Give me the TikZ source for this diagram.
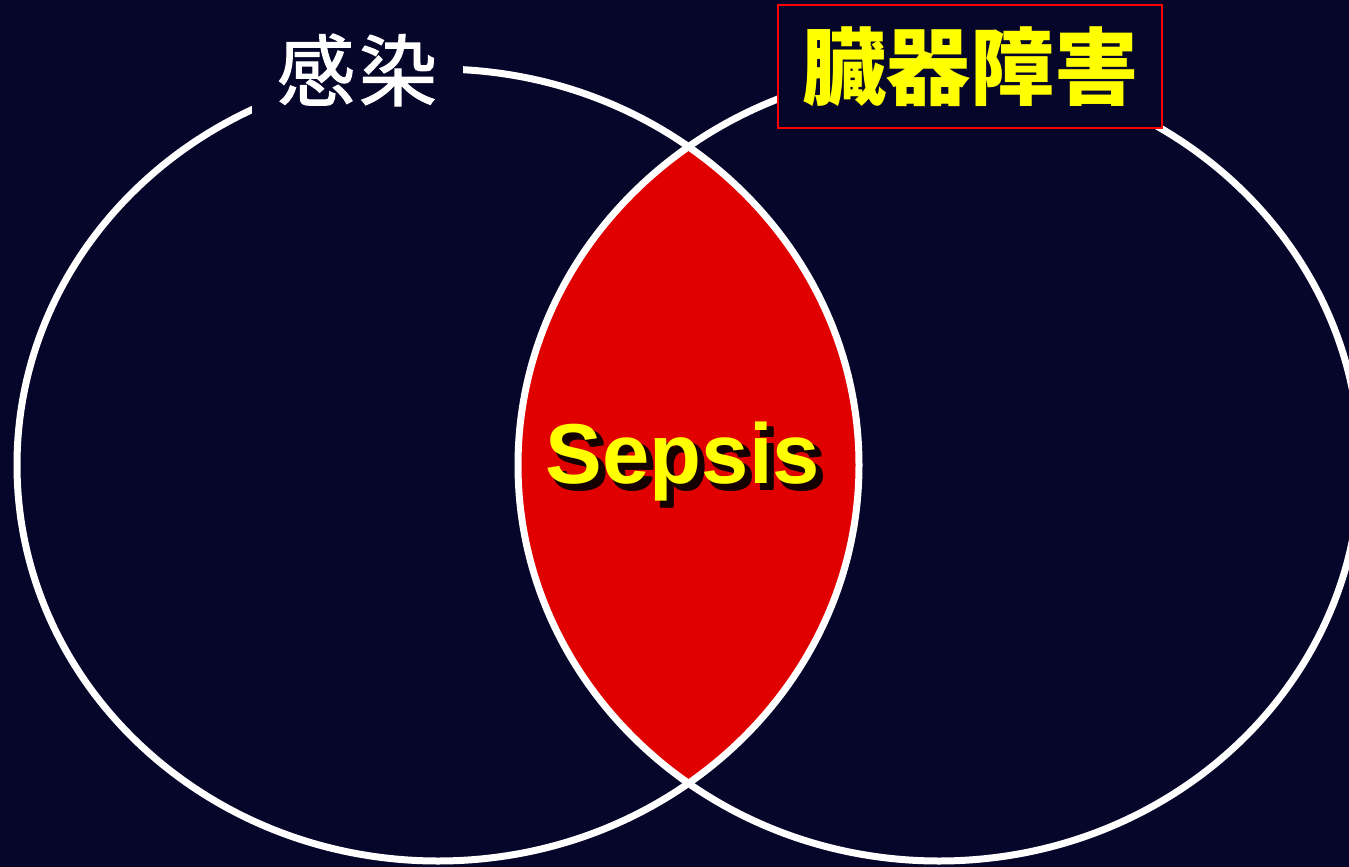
\documentclass[tikz,border=0pt]{standalone}
\usepackage{fontspec}
\setmainfont{Liberation Sans}
\newfontfamily\cjk{Noto Sans CJK JP}
\newfontfamily\cjkmed[FakeBold=1.5]{Noto Sans CJK JP}
\definecolor{bg}{HTML}{06052A}
\definecolor{lensred}{HTML}{E00000}
\definecolor{ylw}{HTML}{FFFF00}
\begin{document}
\begin{tikzpicture}[x={(0.5pt,0)},y={(0,-0.5pt)},
  ring/.style={draw=white,line width=3.5pt},
  sepsisfont/.style={font=\bfseries\fontsize{42.5}{48}\selectfont,inner sep=0pt},
  ]
\fill[bg] (0,0) rectangle (1349,867);
\useasboundingbox (0,0) rectangle (1349,867);
\coordinate (cl) at (438,465);
\coordinate (cr) at (939,465);
\begin{scope}
  \clip (cl) ellipse [x radius=421, y radius=396];
  \fill[lensred] (cr) ellipse [x radius=421, y radius=396];
\end{scope}
\draw[ring] (cl) ellipse [x radius=421, y radius=396];
\draw[ring] (cr) ellipse [x radius=421, y radius=396];
% label infection
\node[fill=bg,minimum width=105.5pt,minimum height=45pt,inner sep=0pt,text=white,
  font=\cjkmed\fontsize{39}{44}\selectfont] (inf) at (357,70) {感\hspace{2pt}染};
% label organ dysfunction
\node[fill=bg,draw=red,line width=1pt,minimum width=192pt,minimum height=61.5pt,inner sep=0pt,
  text=ylw,font=\cjk\bfseries\fontsize{42}{46}\selectfont] (org) at (970,66.5) {臓器障害};
% sepsis with soft shadow
\begin{scope}[transparency group,opacity=0.9]
  \foreach \dx/\dy in {5/5,6/6,7/7,5/7,7/5}{
    \node[sepsisfont,text=black] at (683+\dx,462+\dy) {Sepsis};
  }
\end{scope}
\node[sepsisfont,text=ylw] (sep) at (683,462) {Sepsis};
\end{tikzpicture}
\end{document}
